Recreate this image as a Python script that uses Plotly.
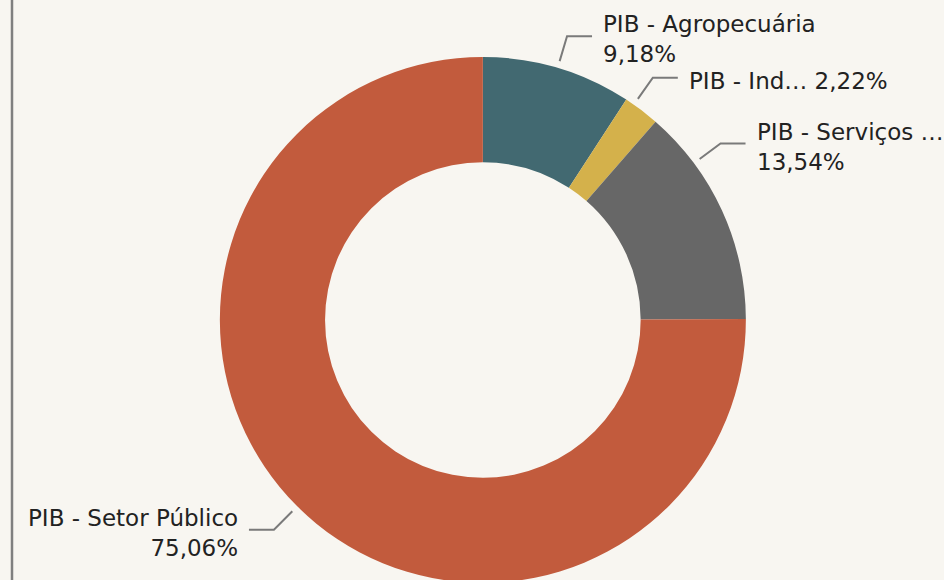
import math
import plotly.graph_objects as go

# ---- data ----
categories = ["PIB - Agropecuária", "PIB - Indústria", "PIB - Serviços", "PIB - Setor Público"]
values = [9.18, 2.22, 13.54, 75.06]
display_labels = ["PIB - Agropecuária", "PIB - Ind…", "PIB - Serviços …", "PIB - Setor Público"]
label_separators = ["<br>", " ", "<br>", "<br>"]

# ---- style ----
W, H = 944, 583
colors = ["#426971", "#d4b14b", "#676767", "#c25b3d"]
BG = "#f8f6f1"
FONT = "DejaVu Sans, Verdana, sans-serif"
FONT_SIZE = 23
LEADER_COLOR = "#7a7a7a"
angle_nudge = {"PIB - Indústria": -2.0, "PIB - Serviços": -12.0}  # label leader placement tweak (degrees)
DOM_X = [0.2, 0.823]
DOM_Y = [0.0, 526 / 583]

fig = go.Figure(go.Pie(
    labels=categories, values=values, hole=0.6, sort=False, direction="clockwise",
    rotation=0, marker=dict(colors=colors, line=dict(width=0)),
    textinfo="none", hoverinfo="label+percent", showlegend=False,
    domain=dict(x=DOM_X, y=DOM_Y),
))

cx = (DOM_X[0] + DOM_X[1]) / 2 * W
cy = H * (1 - (DOM_Y[0] + DOM_Y[1]) / 2)
R = min(W * (DOM_X[1] - DOM_X[0]), H * (DOM_Y[1] - DOM_Y[0])) / 2

total = sum(values)
cum = 0.0
shapes = [dict(type="line", xref="paper", yref="paper", x0=12 / W, x1=12 / W, y0=0, y1=1,
               line=dict(color="#808080", width=2.5))]
annotations = []
for cat, v, lab, sep in zip(categories, values, display_labels, label_separators):
    mid = (cum + v / 2) / total * 360 + angle_nudge.get(cat, 0.0)
    cum += v
    a = math.radians(mid)
    sx, sy = math.sin(a), -math.cos(a)
    x1, y1 = cx + (R + 7) * sx, cy + (R + 7) * sy
    x2, y2 = cx + (R + 33) * sx, cy + (R + 33) * sy
    right = sx >= 0
    x3 = x2 + (25 if right else -25)
    tx = x3 + (9 if right else -9)
    pct = f"{v / total * 100:.2f}".replace(".", ",") + "%"
    def px(x): return x / W
    def py(y): return 1 - y / H
    shapes.append(dict(type="path", xref="paper", yref="paper",
                       path=f"M {px(x1)} {py(y1)} L {px(x2)} {py(y2)} L {px(x3)} {py(y2)}",
                       line=dict(color=LEADER_COLOR, width=2)))
    annotations.append(dict(xref="paper", yref="paper", x=px(tx), y=py(y2), yshift=-3,
                            text=lab + sep + pct, showarrow=False,
                            xanchor="left" if right else "right", yanchor="middle",
                            align="left" if right else "right",
                            font=dict(family=FONT, size=FONT_SIZE, color="#222222")))

fig.update_layout(
    width=W, height=H, margin=dict(l=0, r=0, t=0, b=0),
    paper_bgcolor=BG, plot_bgcolor=BG, shapes=shapes, annotations=annotations,
    font=dict(family=FONT),
)
fig.write_html(
    "out.html",
    config={"displayModeBar": False},
    post_script="document.body.style.margin='0';document.body.style.overflow='hidden';"
                "document.body.style.background='%s';" % BG,
)
